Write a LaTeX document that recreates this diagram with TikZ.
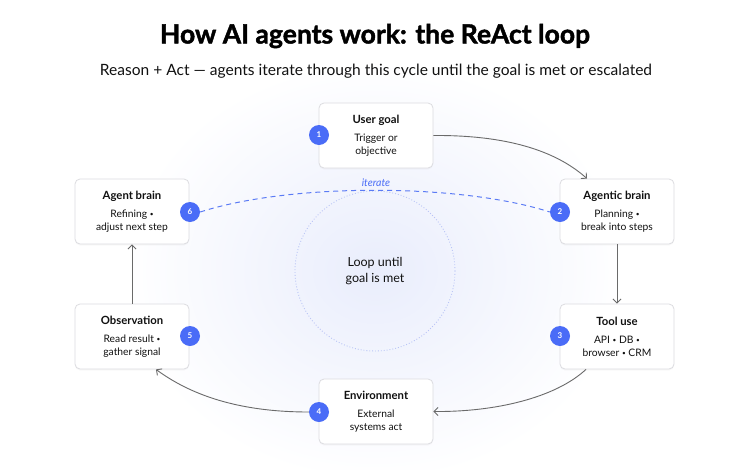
\documentclass[tikz,border=0pt]{standalone}
\usepackage{fontspec}
\setmainfont{Lato}
\newfontfamily\heavyfont{Lato}[BoldFeatures={FakeBold=1.6}]
\usetikzlibrary{arrows.meta,shadows}
\definecolor{badgeblue}{HTML}{4A6CF7}
\definecolor{dashblue}{HTML}{5B7BF5}
\definecolor{boxborder}{HTML}{DCDCE0}
\definecolor{glow}{HTML}{E9EDFC}
\definecolor{ringcol}{HTML}{B9C4F6}
\definecolor{arrowgray}{HTML}{6A6A6A}
\definecolor{ink}{HTML}{111111}
\tikzset{
  stepbox/.style={draw=boxborder, line width=0.8pt, fill=white, rounded corners=5pt,
    minimum width=114pt, minimum height=65pt, align=center, inner sep=0pt,
    text=ink, font=\fontsize{10.3}{13}\selectfont,
    drop shadow={opacity=0.05, shadow xshift=0pt, shadow yshift=-1.5pt}},
  badge/.style={circle, fill=badgeblue, minimum size=20pt, inner sep=0pt,
    text=white, font=\bfseries\fontsize{8}{8}\selectfont},
  flow/.style={draw=arrowgray, line width=0.9pt, -{Straight Barb[length=4pt,width=8pt]}},
}
\newcommand{\boxtitle}[1]{{\bfseries\fontsize{11.3}{13}\selectfont #1}\\[5pt]}
\newcommand{\sdot}{\raisebox{0.6pt}{\fontsize{6.5}{6.5}\selectfont •}}
\begin{document}
\begin{tikzpicture}[x=1pt,y=-1pt]
\useasboundingbox (0,0) rectangle (750,469);
\fill[white] (0,0) rectangle (750,469);
\shade[inner color=glow, outer color=white] (375,271) ellipse [x radius=250, y radius=210];

% title
\node[text=black] (title) at (375,36) {\resizebox{430pt}{!}{\heavyfont\bfseries\fontsize{26}{30}\selectfont How AI agents work: the ReAct loop}};
\node[text=ink] (subtitle) at (376,71) {\resizebox{552pt}{!}{\fontsize{15}{18}\selectfont Reason + Act — agents iterate through this cycle until the goal is met or escalated}};

% center ring
\draw[ringcol, line width=0.9pt, dotted] (375,271) circle [radius=80];
\node[text=ink, align=center, font=\fontsize{12.5}{16}\selectfont] (center) at (375,271) {Loop until\\goal is met};

% boxes
\node[stepbox] (goal) at (376,135.5) {\boxtitle{User goal}Trigger or\\objective};
\node[stepbox] (brain) at (617,211.5) {\boxtitle{Agentic brain}Planning \sdot\\break into steps};
\node[stepbox] (tool) at (617,336.5) {\boxtitle{Tool use}API \sdot{} DB \sdot\\browser \sdot{} CRM};
\node[stepbox] (env) at (376,411.5) {\boxtitle{Environment}External\\systems act};
\node[stepbox] (obs) at (132,336.5) {\boxtitle{Observation}Read result \sdot\\gather signal};
\node[stepbox] (refine) at (132,211.5) {\boxtitle{Agent brain}Refining \sdot\\adjust next step};

% arrows
\draw[flow] (goal.east) .. controls (505,135) and (555,150) .. ([xshift=-30pt]brain.north);
\draw[flow] (brain.south) -- (tool.north);
\draw[flow] ([xshift=-31pt]tool.south) .. controls (555,398) and (495,412) .. (env.east);
\draw[flow] (obs.north) -- (refine.south);

% badges
\node[badge] (b1) at (319,135) {1};
\node[badge] (b2) at (560,212) {2};
\node[badge] (b3) at (560,336) {3};
\node[badge] (b4) at (319,412) {4};
\node[badge] (b5) at (190,336) {5};
\node[badge] (b6) at (190,212) {6};

\draw[flow] (b4.west) .. controls (245,412) and (195,398) .. ([xshift=24pt]obs.south);

% iterate
\draw[dashblue, line width=1pt, dash pattern=on 5pt off 4pt] (b6.east) .. controls (290,183) and (460,183) .. (b2.west);
\node[text=badgeblue, font=\itshape\fontsize{10.5}{12}\selectfont] (iter) at (376,183) {iterate};
\end{tikzpicture}
\end{document}
